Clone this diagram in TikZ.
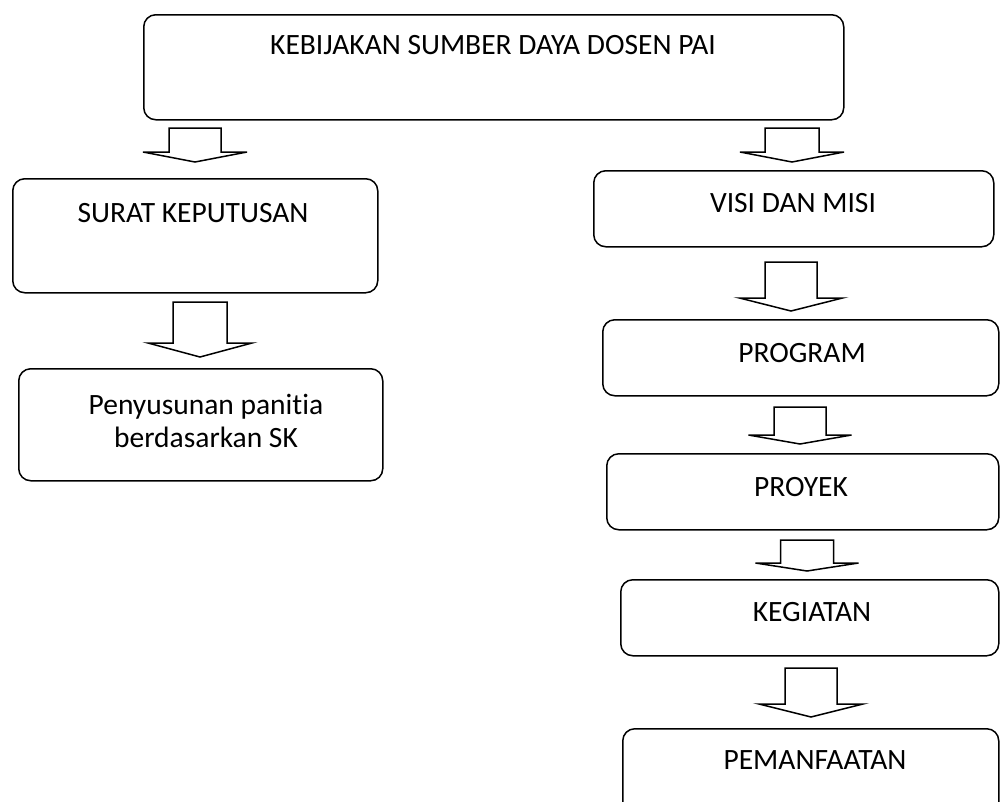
\documentclass[tikz,border=0pt]{standalone}
\usepackage{fontspec}
\setmainfont{Carlito}[Ligatures={NoCommon}]
\begin{document}
\begin{tikzpicture}[x=1pt,y=-1pt,
  box/.style={draw, line width=1.5pt, rounded corners=12pt, inner sep=0pt, anchor=north west},
  lbl/.style={font=\fontsize{29.5}{33}\selectfont, align=center, inner sep=0pt},
  pics/blockarrow/.style n args={4}{code={
    \draw[line width=1.5pt, line join=miter]
      (-#1,0) -- (-#1,#2) -- (-#3,#2) -- (0,#2+#4) -- (#3,#2) -- (#1,#2) -- (#1,0) -- cycle;}}]
\useasboundingbox (0,0) rectangle (1000,801);

% boxes
\node[box, minimum width=700pt, minimum height=105pt] (top) at (143,14) {};
\node[box, minimum width=365pt, minimum height=114pt] (surat) at (12,178) {};
\node[box, minimum width=364pt, minimum height=112pt] (panitia) at (18,368) {};
\node[box, minimum width=400pt, minimum height=76pt] (visi) at (593,170) {};
\node[box, minimum width=396pt, minimum height=76pt] (program) at (602,319) {};
\node[box, minimum width=392pt, minimum height=76pt] (proyek) at (606,453) {};
\node[box, minimum width=378pt, minimum height=76pt] (kegiatan) at (620,579) {};
\node[box, minimum width=376pt, minimum height=95pt] (pemanfaatan) at (622,728) {};

% box texts
\node[lbl] (top-t) at (493,45) {KEBIJAKAN SUMBER DAYA DOSEN PAI};
\node[lbl] (surat-t) at (193,213) {SURAT KEPUTUSAN};
\node[lbl] (panitia-t) at (206,421) {Penyusunan panitia\\berdasarkan SK};
\node[lbl] (visi-t) at (793,203) {VISI DAN MISI};
\node[lbl] (program-t) at (802,353) {PROGRAM};
\node[lbl] (proyek-t) at (801,487) {PROYEK};
\node[lbl] (kegiatan-t) at (812,612) {KEGIATAN};
\node[lbl] (pemanfaatan-t) at (815,760) {PEMANFAATAN};

% block arrows: half stem width, stem length, half head width, head length
\pic (a1) at (195,128) {blockarrow={26}{24}{52}{10}};
\pic (a2) at (200,302) {blockarrow={27}{41}{52}{14}};
\pic (b1) at (792,128) {blockarrow={27}{24}{52}{10}};
\pic (b2) at (791,262) {blockarrow={26}{36}{51.5}{13}};
\pic (b3) at (800,407) {blockarrow={26}{28}{51.5}{9}};
\pic (b4) at (807,540) {blockarrow={26.5}{23}{51.5}{8}};
\pic (b5) at (811,668) {blockarrow={26}{36}{52}{13}};
\end{tikzpicture}
\end{document}
